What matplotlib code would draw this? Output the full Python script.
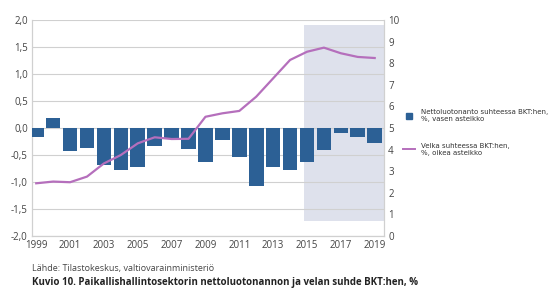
import matplotlib
matplotlib.use("Agg")
import matplotlib.pyplot as plt
from matplotlib.lines import Line2D

plt.rcParams['font.family'] = ['Open Sans', 'DejaVu Sans']

years = list(range(1999, 2020))
net_lending = [-0.17, 0.19, -0.43, -0.37, -0.69, -0.78, -0.72, -0.33, -0.19, -0.39,
               -0.63, -0.22, -0.54, -1.07, -0.73, -0.77, -0.63, -0.41, -0.09, -0.16, -0.27]
debt = [2.44, 2.52, 2.49, 2.75, 3.36, 3.75, 4.29, 4.57, 4.49, 4.50,
        5.52, 5.68, 5.79, 6.45, 7.30, 8.15, 8.53, 8.72, 8.46, 8.29, 8.24]
left_ticks = [-2.0, -1.5, -1.0, -0.5, 0.0, 0.5, 1.0, 1.5, 2.0]
right_ticks = list(range(0, 11))
year_ticks = list(range(1999, 2020, 2))
forecast_start = 2014.8

bar_color = '#2c6095'
line_color = '#b56fbc'
shade_color = '#dee1ec'
grid_color = '#d0d0d0'
text_color = '#444444'

fig = plt.figure(figsize=(5.55, 2.91), dpi=100)
ax = fig.add_axes([32 / 555, 1 - 236 / 291, (384 - 32) / 555, (236 - 20) / 291])
ax2 = ax.twinx()

# forecast shading, drawn on the right axis scale
ax2.axvspan(forecast_start, 2019.55, ymin=0.07, ymax=0.977, color=shade_color, lw=0, zorder=0)

ax.set_zorder(ax2.get_zorder() + 1)
ax.patch.set_visible(False)

ax.bar(years, net_lending, width=0.86, color=bar_color, zorder=3)
ax.set_ylim(-2.0, 2.0)
ax.set_yticks(left_ticks)
ax.set_yticklabels(['{:.1f}'.format(v).replace('.', ',') for v in left_ticks])
ax.grid(axis='y', color=grid_color, lw=0.8, zorder=0)
ax.set_xlim(1998.75, 2019.55)
ax.set_xticks(year_ticks)

ax2.set_ylim(0, 10)
ax2.set_yticks(right_ticks)

# debt line on top of bars
ax.plot(years, [d / 10 * 4 - 2 for d in debt], color=line_color, lw=1.6, zorder=4)

for a in (ax, ax2):
    a.tick_params(length=0, labelsize=7, colors=text_color, pad=3)
    for side in ('top', 'bottom', 'left', 'right'):
        a.spines[side].set_color(grid_color)
        a.spines[side].set_linewidth(0.8)
ax.spines['top'].set_visible(False)
ax2.spines['top'].set_visible(False)

handles = [Line2D([], [], marker='s', ls='none', color=bar_color, markersize=4.5),
           Line2D([], [], color=line_color, lw=1.4)]
labels = ['Nettoluotonanto suhteessa BKT:hen,\n%, vasen asteikko',
          'Velka suhteessa BKT:hen,\n%, oikea asteikko']
leg = fig.legend(handles, labels, loc='upper left', bbox_to_anchor=(400 / 555, 1 - 106 / 291),
                 frameon=False, handlelength=1.6, labelspacing=2.9, handletextpad=0.9,
                 borderpad=0, prop={'family': ['Liberation Sans Narrow', 'DejaVu Sans'], 'size': 5.0})
for t in leg.get_texts():
    t.set_color('#333333')

fig.text(32 / 555, 1 - 268 / 291, 'Lähde: Tilastokeskus, valtiovarainministeriö',
         fontsize=6.5, color=text_color, va='center')
fig.text(32 / 555, 1 - 283 / 291,
         'Kuvio 10. Paikallishallintosektorin nettoluotonannon ja velan suhde BKT:hen, %',
         fontsize=7.0, fontweight='bold', color='#222222', va='center')

fig.savefig('out.png', dpi=100)
